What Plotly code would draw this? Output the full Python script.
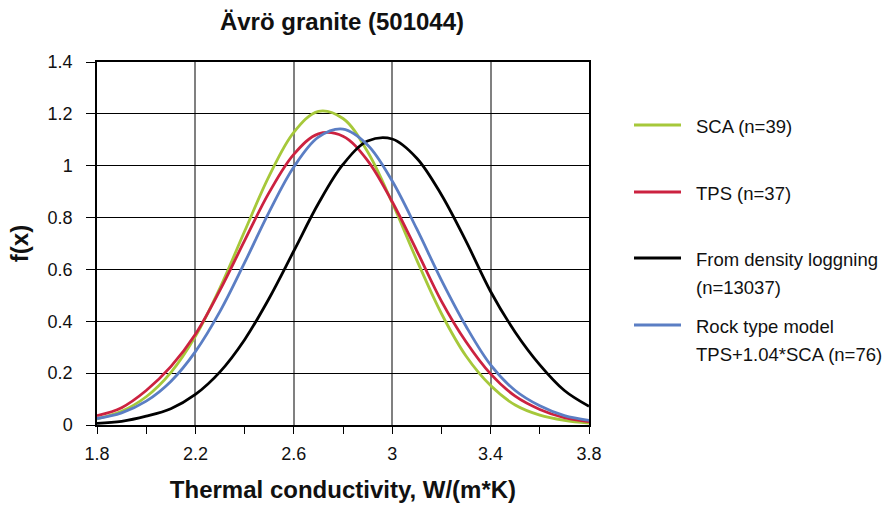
import plotly.graph_objects as go

# Thermal conductivity grid, W/(m*K)
conductivity = [1.8, 1.9, 2.0, 2.1, 2.2, 2.3, 2.4, 2.5, 2.6, 2.7, 2.8,
                2.9, 3.0, 3.1, 3.2, 3.3, 3.4, 3.5, 3.6, 3.7, 3.8]

# Density functions f(x) for each data source
sca = [0.024, 0.053, 0.109, 0.202, 0.342, 0.529, 0.747, 0.961, 1.129, 1.210, 1.182,
       1.054, 0.857, 0.636, 0.430, 0.266, 0.152, 0.077, 0.038, 0.018, 0.007]
tps = [0.036, 0.067, 0.133, 0.225, 0.350, 0.520, 0.711, 0.897, 1.044, 1.123, 1.114,
       1.020, 0.861, 0.672, 0.478, 0.321, 0.197, 0.111, 0.060, 0.028, 0.013]
density_log = [0.006, 0.014, 0.034, 0.063, 0.118, 0.205, 0.329, 0.489, 0.671, 0.854, 1.005,
               1.095, 1.103, 1.029, 0.888, 0.709, 0.515, 0.358, 0.232, 0.133, 0.072]
rock_model = [0.025, 0.047, 0.092, 0.168, 0.283, 0.438, 0.626, 0.822, 0.995, 1.110, 1.141,
              1.080, 0.941, 0.756, 0.559, 0.381, 0.232, 0.133, 0.074, 0.036, 0.018]

series_names = ["SCA (n=39)", "TPS (n=37)",
                ["From density loggning", "(n=13037)"],
                ["Rock type model", "TPS+1.04*SCA (n=76)"]]
series_values = [sca, tps, density_log, rock_model]
series_colors = ["#A6C83A", "#CC2240", "#000000", "#5B7EC4"]

FONT = "Liberation Sans, Arial, sans-serif"

fig = go.Figure()
for vals, color in zip(series_values, series_colors):
    fig.add_trace(go.Scatter(
        x=conductivity, y=vals, mode="lines",
        line=dict(color=color, width=2.8, shape="spline", smoothing=1.0),
        showlegend=False, hoverinfo="x+y"))

# Hand-placed legend on the right side
legend_rows = [125, 192, 258, 325]
for names, color, yrow in zip(series_names, series_colors, legend_rows):
    fig.add_shape(type="line", xref="paper", yref="paper",
                  x0=(634 - 97) / 492, x1=(681 - 97) / 492,
                  y0=(425 - yrow) / 363, y1=(425 - yrow) / 363,
                  line=dict(color=color, width=3))
    lines = names if isinstance(names, list) else [names]
    for k, txt in enumerate(lines):
        fig.add_annotation(text=txt, xref="paper", yref="paper",
                           x=(694 - 97) / 492, y=(425 - (yrow + 1 + 28 * k)) / 363,
                           xanchor="left", yanchor="middle", showarrow=False,
                           font=dict(family=FONT, size=18.5, color="#111111"))

fig.update_layout(
    width=884, height=508,
    margin=dict(l=97, r=295, t=62, b=83),
    paper_bgcolor="white", plot_bgcolor="white",
    title=dict(text="<b>Ävrö granite (501044)</b>", x=342 / 884, xanchor="center",
               y=1 - 22 / 508, yanchor="middle",
               font=dict(family=FONT, size=24, color="#111111")),
    font=dict(family=FONT, size=18, color="#111111"),
)

fig.update_xaxes(
    range=[1.8, 3.8], dtick=0.4, tick0=1.8, automargin=False,
    showgrid=True, gridcolor="#808080", gridwidth=1.5,
    ticks="outside", ticklen=7, tickcolor="black", ticklabelstandoff=5,
    minor=dict(dtick=0.2, ticks="outside", ticklen=7, tickcolor="black", showgrid=False),
    showline=True, linecolor="black", linewidth=1.5, mirror=True,
    zeroline=False,
    title=dict(text="<b>Thermal conductivity, W/(m*K)</b>", standoff=18,
               font=dict(family=FONT, size=24, color="#111111")),
)
fig.update_yaxes(
    range=[0, 1.4], dtick=0.2, tick0=0, automargin=False,
    showgrid=True, gridcolor="black", gridwidth=1,
    ticks="outside", ticklen=9, tickcolor="black", ticklabelstandoff=10,
    showline=True, linecolor="black", linewidth=1.5, mirror=True,
    zeroline=False,
    title=dict(text="<b>f(x)</b>", standoff=12,
               font=dict(family=FONT, size=24, color="#111111")),
)

fig.write_html("out.html")
